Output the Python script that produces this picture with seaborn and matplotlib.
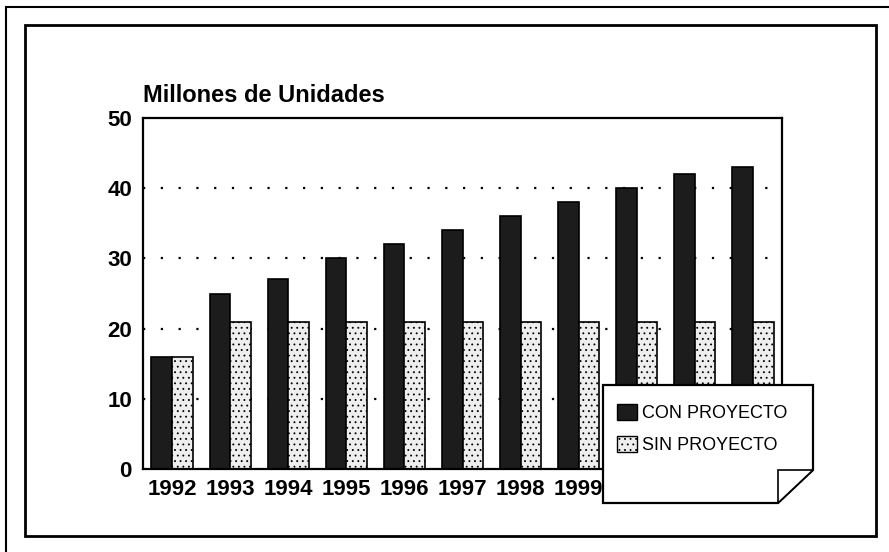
import numpy as np
import pandas as pd
import seaborn as sns
import matplotlib.pyplot as plt
from matplotlib.patches import Polygon, Rectangle

years = ["1992", "1993", "1994", "1995", "1996", "1997",
         "1998", "1999", "2000", "2001", "2002"]
con_proyecto = [16, 25, 27, 30, 32, 34, 36, 38, 40, 42, 43]
sin_proyecto = [16, 21, 21, 21, 21, 21, 21, 21, 21, 21, 21]
series_names = ["CON PROYECTO", "SIN PROYECTO"]

df = pd.DataFrame({
    "year": years * 2,
    "value": con_proyecto + sin_proyecto,
    "serie": [series_names[0]] * len(years) + [series_names[1]] * len(years),
})

W, H = 889, 552
sns.set_style("white")
plt.rcParams["font.family"] = ["Liberation Sans", "DejaVu Sans"]
plt.rcParams["text.color"] = "black"
plt.rcParams["hatch.linewidth"] = 0.6

fig = plt.figure(figsize=(W / 100, H / 100), dpi=100)
ax = fig.add_axes([143 / W, 1 - 469 / H, 639 / W, 351 / H])

colors = ["#1c1c1c", "#eeeeee"]
sns.barplot(data=df, x="year", y="value", hue="serie", palette=colors,
            width=0.71, edgecolor="black", linewidth=1.2, ax=ax,
            legend=False, zorder=2)

# light bars get a speckle-like dot hatch
n = len(years)
for i, bar in enumerate(ax.patches):
    if i >= n:
        bar.set_hatch("...")

ax.set_ylim(0, 50)
ax.set_yticks(range(0, 51, 10))
ax.set_xlim(-0.5, n - 0.5)
ax.set_xlabel("")
ax.set_ylabel("")
for y in range(10, 50, 10):
    ax.axhline(y, color="black", linestyle=(0, (1, 7)), linewidth=1.6, zorder=1)
for s in ax.spines.values():
    s.set_visible(True)
    s.set_color("black")
    s.set_linewidth(1.6)
ax.tick_params(axis="both", length=0, colors="black")
ax.tick_params(axis="y", pad=8)
ax.tick_params(axis="x", pad=7)
for lab in ax.get_xticklabels() + ax.get_yticklabels():
    lab.set_fontweight("bold")
    lab.set_fontsize(16)

fig.text(143 / W, 1 - 95 / H, "Millones de Unidades", fontsize=17,
         fontweight="bold", va="center", ha="left", color="black")

# frames around the page
def px(x, y):
    return (x / W, 1 - y / H)

fig.patches.append(Rectangle(px(25, 536), 851 / W, 511 / H, fill=False,
                             edgecolor="black", linewidth=2,
                             transform=fig.transFigure, figure=fig))
fig.patches.append(Rectangle(px(6, 560), 900 / W, 553 / H, fill=False,
                             edgecolor="black", linewidth=1.5,
                             transform=fig.transFigure, figure=fig))

# legend note with folded corner
note = [px(603, 385), px(813, 385), px(813, 470), px(778, 503), px(603, 503)]
fig.patches.append(Polygon(note, closed=True, facecolor="white",
                           edgecolor="black", linewidth=1.6, zorder=3,
                           transform=fig.transFigure, figure=fig))
fold = [px(778, 470), px(813, 470), px(778, 503)]
fig.patches.append(Polygon(fold, closed=True, facecolor="white",
                           edgecolor="black", linewidth=1.2, zorder=3.5,
                           transform=fig.transFigure, figure=fig))

handles = [Rectangle((0, 0), 1, 1, facecolor=colors[0], edgecolor="black"),
           Rectangle((0, 0), 1, 1, facecolor=colors[1], edgecolor="black",
                     hatch="...")]
leg = fig.legend(handles, series_names, loc="upper left",
                 bbox_to_anchor=px(617, 404), frameon=False, fontsize=13,
                 handlelength=1.1, handleheight=1.0, handletextpad=0.3,
                 labelspacing=0.75, borderpad=0, borderaxespad=0)
for t in leg.get_texts():
    t.set_color("black")
leg.set_zorder(5)

fig.savefig("out.png", dpi=100)
